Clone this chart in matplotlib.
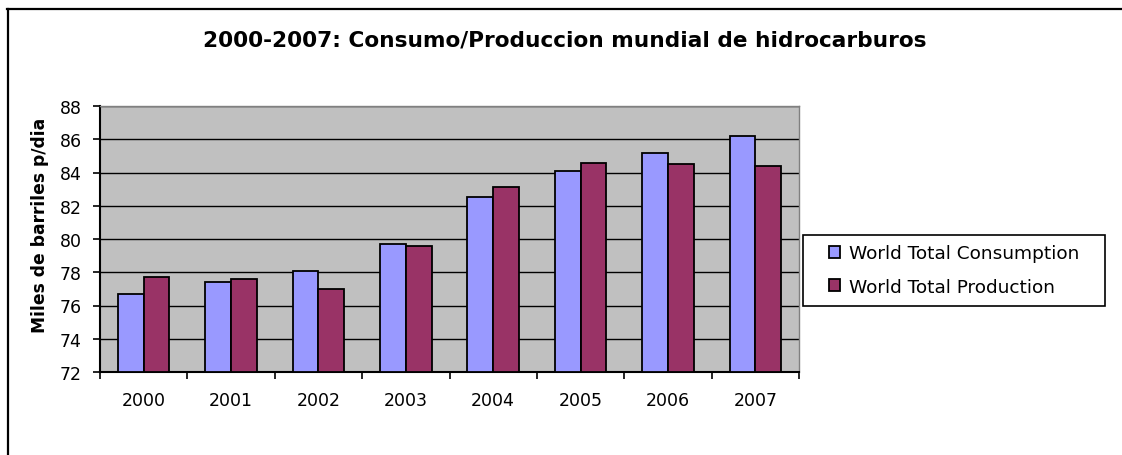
import matplotlib
matplotlib.use("Agg")
import matplotlib.pyplot as plt
from matplotlib.lines import Line2D
from matplotlib.patches import Rectangle
import numpy as np

years = ["2000", "2001", "2002", "2003", "2004", "2005", "2006", "2007"]
consumption = [76.7, 77.4, 78.1, 79.7, 82.5, 84.1, 85.2, 86.2]
production = [77.7, 77.6, 77.0, 79.6, 83.1, 84.6, 84.5, 84.4]
series_names = ["World Total Consumption", "World Total Production"]
title = "2000-2007: Consumo/Produccion mundial de hidrocarburos"
ylabel = "Miles de barriles p/dia"

W, H = 1122, 456
fig = plt.figure(figsize=(W / 100, H / 100), dpi=100)
fig.patch.set_facecolor("white")

plt.rcParams["font.family"] = ["DejaVu Sans"]

# axes in pixel-derived coordinates
x0, x1, y0, y1 = 100, 799, 107, 373
ax = fig.add_axes([x0 / W, 1 - y1 / H, (x1 - x0) / W, (y1 - y0) / H])
ax.set_facecolor("#C0C0C0")

x = np.arange(len(years))
bw = 0.295
ax.bar(x - bw / 2, [c - 72 for c in consumption], bw, bottom=72, color="#9999FF",
       edgecolor="black", linewidth=1.3, zorder=3, label=series_names[0])
ax.bar(x + bw / 2, [p - 72 for p in production], bw, bottom=72, color="#993366",
       edgecolor="black", linewidth=1.3, zorder=3, label=series_names[1])

ax.set_xlim(-0.5, len(years) - 0.5)
ax.set_ylim(72, 88)
ax.set_yticks(np.arange(72, 89, 2))
ax.yaxis.grid(True, color="black", linewidth=1.0, zorder=1)
ax.set_axisbelow(True)

ax.set_xticks(np.arange(-0.5, len(years), 1.0))
ax.set_xticklabels([])
ax.set_xticks(x, minor=True)
ax.set_xticklabels(years, minor=True)
ax.tick_params(axis="x", which="major", length=5, width=1.2, color="black", direction="out")
ax.tick_params(axis="x", which="minor", length=0, pad=14, labelsize=12.5)
ax.tick_params(axis="y", length=5, width=1.2, direction="out", pad=8, labelsize=12.5)

for s in ["left", "bottom"]:
    ax.spines[s].set_color("black")
    ax.spines[s].set_linewidth(1.5)
for s in ["top", "right"]:
    ax.spines[s].set_color("#808080")
    ax.spines[s].set_linewidth(1.0)

ax.set_ylabel(ylabel, fontsize=12.3, fontweight="bold")
ax.yaxis.set_label_coords(-0.073, 0.556)

fig.text(565 / W, 1 - 46 / H, title, ha="center", va="baseline",
         fontsize=15.6, fontweight="bold")

# legend box
fig.add_artist(Rectangle((803 / W, 1 - 307 / H), (1105 - 803) / W, (307 - 236) / H,
                         transform=fig.transFigure, facecolor="white",
                         edgecolor="black", linewidth=1.2, zorder=2))
leg = fig.legend(loc="center left", bbox_to_anchor=(829 / W, 1 - 271 / H),
                 frameon=False, fontsize=13.3,
                 handlelength=0.6, handleheight=0.6, handletextpad=0.5,
                 borderpad=0, labelspacing=0.85, borderaxespad=0)
leg.set_zorder(3)

# outer chart border (top and left visible)
fig.add_artist(Line2D([7.5 / W, 7.5 / W], [0, 1 - 10 / H], transform=fig.transFigure,
                      color="black", linewidth=1.6))
fig.add_artist(Line2D([7 / W, 1], [1 - 10 / H, 1 - 10 / H], transform=fig.transFigure,
                      color="black", linewidth=1.6))

fig.savefig("out.png", dpi=100)
